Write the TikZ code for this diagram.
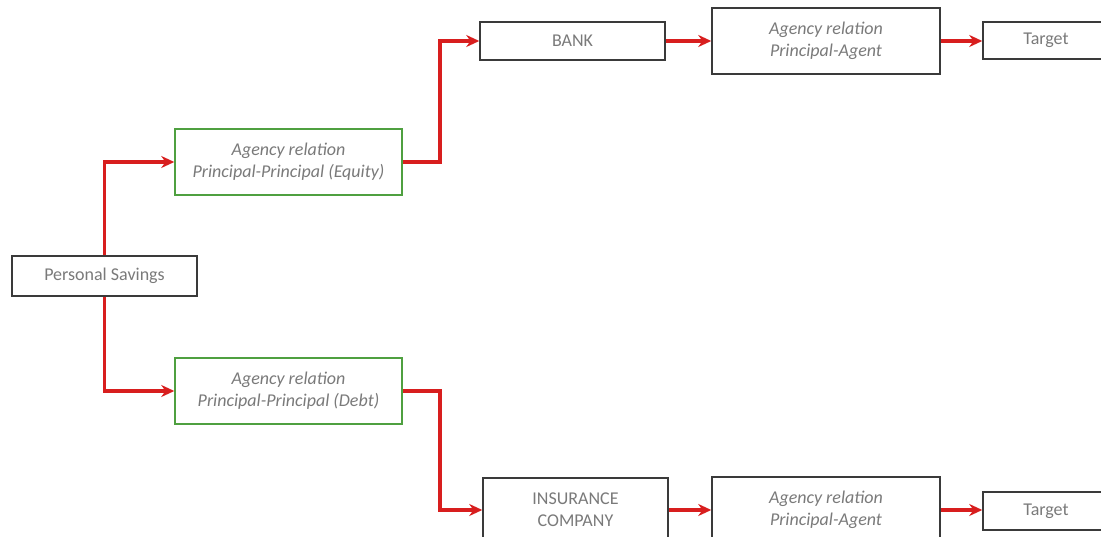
\documentclass[tikz,border=0pt]{standalone}
\usepackage{fontspec}
\setmainfont{Carlito}
\usetikzlibrary{arrows.meta}
\definecolor{txt}{HTML}{7A7A7A}
\definecolor{frame}{HTML}{3A3A3A}
\definecolor{grn}{HTML}{4FA040}
\definecolor{arr}{HTML}{D81E1E}
\tikzset{
  box/.style={draw=frame, line width=1.5pt, fill=white, text=txt, inner sep=0pt, align=center, font=\fontsize{18}{22}\selectfont},
  gbox/.style={box, draw=grn},
  it/.style={font=\fontsize{18}{22}\selectfont\itshape},
  link/.style={draw=arr, line width=3.2pt, -{Stealth[length=13pt,width=12pt]}}
}
\begin{document}
\begin{tikzpicture}[x=1pt,y=-1pt]
\useasboundingbox (0,0) rectangle (1101,537);
\clip (0,0) rectangle (1101,537);
\fill[white] (0,0) rectangle (1101,537);
\node[box, minimum width=185pt, minimum height=40pt] (ps) at (104.5,276) {Personal Savings};
\node[gbox, it, minimum width=227pt, minimum height=66pt] (eq) at (288.5,162) {Agency relation\\Principal-Principal (Equity)};
\node[gbox, it, minimum width=227pt, minimum height=66pt] (db) at (288.5,391) {Agency relation\\Principal-Principal (Debt)};
\node[box, minimum width=185pt, minimum height=38pt] (bank) at (572.5,41) {BANK};
\node[box, it, minimum width=228pt, minimum height=66pt] (a1) at (826,41) {Agency relation\\Principal-Agent};
\node[box, minimum width=126pt, minimum height=37pt] (t1) at (1046,40.5) {Target};
\node[box, minimum width=185pt, minimum height=64pt] (ins) at (575.5,510) {INSURANCE\\COMPANY};
\node[box, it, minimum width=228pt, minimum height=66pt] (a2) at (826,510) {Agency relation\\Principal-Agent};
\node[box, minimum width=126pt, minimum height=38pt] (t2) at (1046,511) {Target};
\draw[link] (ps.north) |- (eq.west);
\draw[link] (ps.south) |- (db.west);
\draw[link] (eq.east) -- (440,162) |- (bank.west);
\draw[link] (db.east) -- (440,391) |- (ins.west);
\draw[link] (bank.east) -- (a1.west);
\draw[link] (a1.east) -- (a1.east -| t1.west);
\draw[link] (ins.east) -- (ins.east -| a2.west);
\draw[link] (a2.east) -- (a2.east -| t2.west);
\end{tikzpicture}
\end{document}
